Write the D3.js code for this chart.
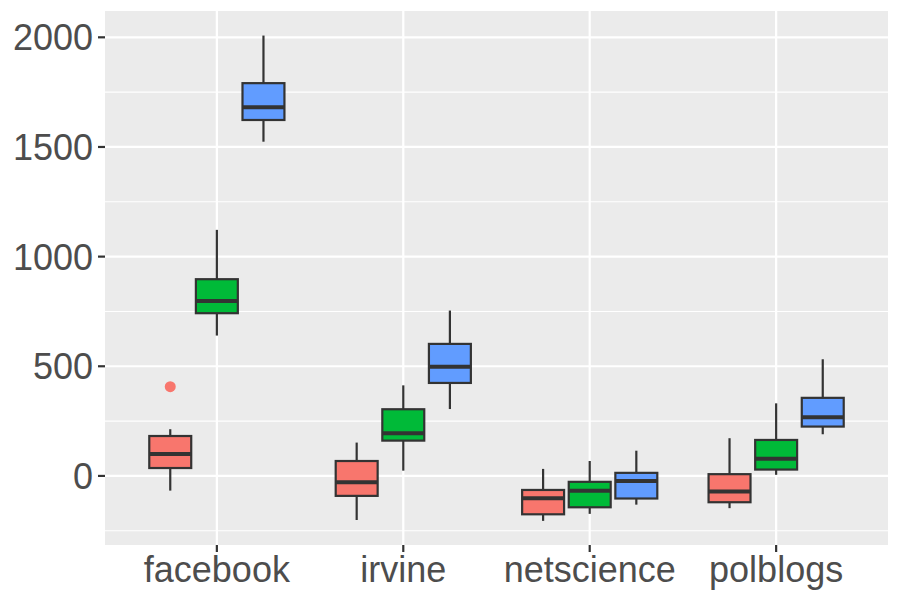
<!DOCTYPE html>
<html>
<head>
<meta charset="utf-8">
<script src="https://cdn.jsdelivr.net/npm/d3@7"></script>
<style>
  body { margin: 0; background: #fff; }
  svg { display: block; font-family: "Liberation Sans", Arial, sans-serif; }
</style>
</head>
<body>
<div id="chart"></div>
<script>
// datasets on the x axis, three series dodged inside each
const categories = ["facebook", "irvine", "netscience", "polblogs"];
const seriesKeys = ["s1", "s2", "s3"];
const seriesFills = ["#F8766D", "#00BA38", "#619CFF"];

// box stats, one row per category, one column per series
const whiskerLow = [
  [-67, 640, 1524],
  [-201, 24, 305],
  [-205, -173, -131],
  [-147, 5, 190]
];
const q1 = [
  [36, 742, 1623],
  [-91, 161, 424],
  [-175, -143, -103],
  [-120, 29, 225]
];
const median = [
  [100, 798, 1681],
  [-29, 195, 498],
  [-102, -68, -23],
  [-71, 78, 268]
];
const q3 = [
  [182, 897, 1791],
  [68, 304, 602],
  [-64, -27, 14],
  [8, 164, 356]
];
const whiskerHigh = [
  [213, 1122, 2008],
  [152, 413, 754],
  [32, 68, 115],
  [172, 331, 532]
];
const outliers = [
  { category: "facebook", series: 0, value: 407 }
];

const yTicks = [0, 500, 1000, 1500, 2000];
const yMinor = [-250, 250, 750, 1250, 1750];

const width = 900, height = 600;
const panel = { left: 105, right: 888, top: 11, bottom: 545 };

const svg = d3.select("#chart").append("svg")
  .attr("width", width)
  .attr("height", height);

svg.append("rect")
  .attr("width", width).attr("height", height)
  .attr("fill", "#ffffff");

const x = d3.scalePoint()
  .domain(categories)
  .range([panel.left, panel.right])
  .padding(0.6);

const step = x.step();
const xSeries = d3.scaleBand()
  .domain(d3.range(seriesKeys.length))
  .range([-0.375 * step, 0.375 * step]);
const boxW = xSeries.bandwidth() * 0.9;

const y = d3.scaleLinear()
  .domain([-315, 2120])
  .range([panel.bottom, panel.top]);

// panel background + grid
svg.append("rect")
  .attr("x", panel.left).attr("y", panel.top)
  .attr("width", panel.right - panel.left)
  .attr("height", panel.bottom - panel.top)
  .attr("fill", "#EBEBEB");

const grid = svg.append("g");
grid.selectAll(".minor")
  .data(yMinor)
  .join("line")
  .attr("x1", panel.left).attr("x2", panel.right)
  .attr("y1", d => y(d)).attr("y2", d => y(d))
  .attr("stroke", "#fff").attr("stroke-width", 1.1);
grid.selectAll(".major")
  .data(yTicks)
  .join("line")
  .attr("x1", panel.left).attr("x2", panel.right)
  .attr("y1", d => y(d)).attr("y2", d => y(d))
  .attr("stroke", "#fff").attr("stroke-width", 2.2);
grid.selectAll(".vmajor")
  .data(categories)
  .join("line")
  .attr("x1", d => x(d)).attr("x2", d => x(d))
  .attr("y1", panel.top).attr("y2", panel.bottom)
  .attr("stroke", "#fff").attr("stroke-width", 2.2);

// flatten the stats into one record per box
const boxes = [];
categories.forEach((c, i) => {
  seriesKeys.forEach((s, j) => {
    boxes.push({
      category: c, series: j,
      lo: whiskerLow[i][j], q1: q1[i][j], med: median[i][j],
      q3: q3[i][j], hi: whiskerHigh[i][j]
    });
  });
});

const cx = d => x(d.category) + xSeries(d.series) + xSeries.bandwidth() / 2;
const ink = "#333333";

const g = svg.append("g");

// outliers
g.selectAll(".outlier")
  .data(outliers)
  .join("circle")
  .attr("cx", cx)
  .attr("cy", d => y(d.value))
  .attr("r", 5.5)
  .attr("fill", d => seriesFills[d.series]);

const box = g.selectAll(".box")
  .data(boxes)
  .join("g")
  .attr("class", "box");

box.append("line")
  .attr("x1", cx).attr("x2", cx)
  .attr("y1", d => y(d.q3)).attr("y2", d => y(d.hi))
  .attr("stroke", ink).attr("stroke-width", 2.2);
box.append("line")
  .attr("x1", cx).attr("x2", cx)
  .attr("y1", d => y(d.q1)).attr("y2", d => y(d.lo))
  .attr("stroke", ink).attr("stroke-width", 2.2);

box.append("rect")
  .attr("x", d => cx(d) - boxW / 2)
  .attr("width", boxW)
  .attr("y", d => y(d.q3))
  .attr("height", d => y(d.q1) - y(d.q3))
  .attr("fill", d => seriesFills[d.series])
  .attr("stroke", ink).attr("stroke-width", 2.2);

box.append("line")
  .attr("x1", d => cx(d) - boxW / 2).attr("x2", d => cx(d) + boxW / 2)
  .attr("y1", d => y(d.med)).attr("y2", d => y(d.med))
  .attr("stroke", ink).attr("stroke-width", 4);

// axes
const textCol = "#4D4D4D";
const yAxis = svg.append("g");
yAxis.selectAll("line")
  .data(yTicks)
  .join("line")
  .attr("x1", panel.left - 7).attr("x2", panel.left)
  .attr("y1", d => y(d)).attr("y2", d => y(d))
  .attr("stroke", ink).attr("stroke-width", 2.2);
yAxis.selectAll("text")
  .data(yTicks)
  .join("text")
  .attr("x", panel.left - 12)
  .attr("y", d => y(d))
  .attr("dy", "0.36em")
  .attr("text-anchor", "end")
  .attr("font-size", 36)
  .attr("fill", textCol)
  .text(d => d);

const xAxis = svg.append("g");
xAxis.selectAll("line")
  .data(categories)
  .join("line")
  .attr("x1", d => x(d)).attr("x2", d => x(d))
  .attr("y1", panel.bottom).attr("y2", panel.bottom + 7)
  .attr("stroke", ink).attr("stroke-width", 2.2);
xAxis.selectAll("text")
  .data(categories)
  .join("text")
  .attr("x", d => x(d))
  .attr("y", 582)
  .attr("text-anchor", "middle")
  .attr("font-size", 36)
  .attr("fill", textCol)
  .text(d => d);
</script>
</body>
</html>
